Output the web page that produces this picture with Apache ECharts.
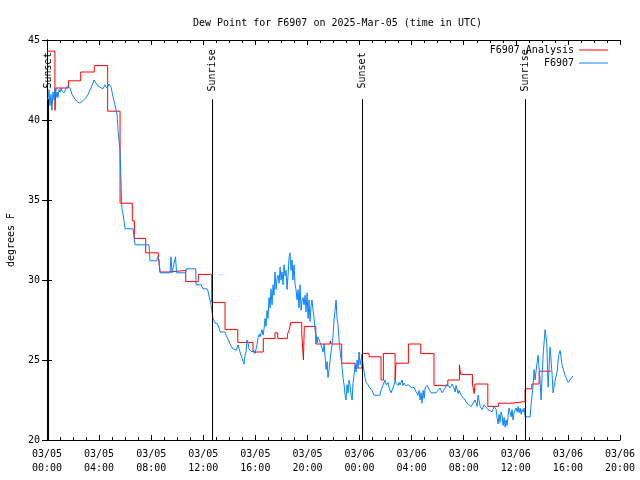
<!DOCTYPE html>
<html><head><meta charset="utf-8">
<script src="https://cdn.jsdelivr.net/npm/echarts@6/dist/echarts.min.js"></script>
<style>html,body{margin:0;padding:0;background:#fff}#c{width:640px;height:480px}</style>
</head><body><div id="c"></div>
<script>
// hours since 2025-03-05 00:00 UTC
const xTickLabels = ['03/05\n00:00','03/05\n04:00','03/05\n08:00','03/05\n12:00','03/05\n16:00','03/05\n20:00',
  '03/06\n00:00','03/06\n04:00','03/06\n08:00','03/06\n12:00','03/06\n16:00','03/06\n20:00'];

const analysisHours = [0,0.61,0.69,1.64,2.59,3.63,4.66,5.61,6.55,6.71,7.58,8.55,8.68,9.37,10.65,11.62,12.65,13.67,14.65,15.82,
  16.61,17.51,17.72,18.46,18.61,18.72,19.56,19.69,19.76,20.64,21.74,21.84,22.63,23.66,24.19,24.73,25.65,25.83,26.73,26.80,
  27.75,28.70,29.72,30.78,31.67,31.76,32.67,32.80,32.87,33.85,34.66,35.69,36.71,37.23,37.79,38.71];
const analysisValues = [44.3,40.6,42.0,42.45,43.0,43.4,40.55,34.8,33.7,32.6,31.7,31.4,30.5,30.6,29.9,30.35,28.6,26.9,26.1,25.5,
  26.35,26.7,26.35,26.6,26.9,27.35,26.7,25.0,27.1,26.0,26.2,26.0,24.8,24.5,25.4,25.2,23.75,25.4,23.75,24.8,
  26.0,25.4,23.4,23.75,24.7,24.1,23.5,22.9,23.5,22.1,22.3,22.4,23.2,23.5,24.3,24.3];

const obsHours = [0.08,0.15,0.23,0.31,0.38,0.46,0.54,0.61,0.69,0.77,0.84,0.92,1.00,1.08,1.15,1.31,1.54,1.77,1.92,2.07,
  2.30,2.53,2.76,3.00,3.15,3.38,3.53,3.61,3.84,4.07,4.30,4.45,4.61,4.76,4.92,5.07,5.22,5.38,5.45,5.53,
  5.61,5.64,5.68,5.72,5.76,5.84,5.91,5.99,6.61,6.76,7.83,7.91,8.43,8.49,8.60,8.68,9.45,9.52,9.60,9.87,
  9.95,10.65,10.68,11.42,11.44,11.83,11.98,12.29,12.37,12.44,12.52,12.60,12.67,12.75,12.90,13.06,13.21,13.29,13.67,13.75,
  13.90,14.06,14.21,14.36,14.52,14.67,14.82,14.98,15.13,15.21,15.28,15.36,15.44,15.51,15.59,15.74,15.90,15.97,16.13,16.21,
  16.28,16.36,16.51,16.59,16.67,16.74,16.82,16.90,16.97,17.05,17.13,17.20,17.28,17.36,17.43,17.51,17.59,17.67,17.74,17.82,
  17.90,17.97,18.05,18.13,18.20,18.28,18.36,18.43,18.51,18.59,18.66,18.74,18.82,18.89,18.97,19.05,19.12,19.20,19.28,19.35,
  19.43,19.51,19.59,19.66,19.74,19.82,19.89,19.97,20.05,20.12,20.20,20.28,20.35,20.43,20.51,20.58,20.66,20.74,20.81,20.97,
  21.12,21.20,21.28,21.35,21.43,21.51,21.58,21.66,21.74,21.81,21.89,21.97,22.04,22.12,22.20,22.27,22.35,22.43,22.50,22.58,
  22.66,22.73,22.81,22.89,22.96,23.04,23.12,23.19,23.27,23.35,23.43,23.50,23.58,23.66,23.73,23.81,23.89,23.96,24.04,24.11,
  24.19,24.27,24.35,24.42,24.50,24.65,24.81,24.96,25.11,25.58,25.65,25.81,25.96,26.04,26.19,26.27,26.42,26.57,26.65,26.73,
  26.80,26.96,27.04,27.11,27.27,27.34,27.42,27.57,27.73,27.88,28.03,28.19,28.34,28.49,28.57,28.65,28.73,28.80,28.88,28.96,
  29.03,29.19,29.34,29.49,29.88,30.03,30.18,30.34,30.41,30.57,30.72,30.80,30.95,31.11,31.26,31.34,31.41,31.57,31.64,31.80,
  31.95,32.10,32.26,32.41,32.57,32.72,32.87,33.03,33.10,33.26,33.41,33.56,33.72,33.87,34.02,34.18,34.33,34.49,34.56,34.64,
  34.72,34.79,34.87,34.95,35.02,35.10,35.18,35.25,35.33,35.41,35.48,35.56,35.64,35.71,35.79,35.87,36.02,36.10,36.18,36.25,
  36.33,36.41,36.48,36.56,36.64,36.71,37.10,37.17,37.25,37.33,37.40,37.48,37.61,37.71,37.86,37.94,38.02,38.12,38.25,38.38,
  38.48,38.63,38.79,38.86,39.02,39.17,39.29,39.40,39.55,39.78,40.02,40.38];
const obsValues = [41.25,41.9,40.9,41.6,40.6,41.75,41.25,42.0,41.4,41.75,41.4,41.9,41.75,42.0,41.8,41.7,42.1,42.0,41.6,41.4,
  41.15,41.05,41.2,41.4,41.6,42.0,42.3,42.5,42.2,42.05,41.95,42.2,42.0,42.25,42.05,41.45,40.95,40.3,39.4,38.75,
  38.1,37.2,36.25,35.0,34.4,34.1,33.75,33.2,33.2,32.2,32.2,31.2,31.2,31.45,31.3,30.45,30.45,31.45,30.45,31.45,
  30.45,30.45,30.7,30.7,29.7,29.7,29.45,29.45,29.3,29.0,28.75,28.45,28.0,27.6,27.3,27.3,27.0,26.75,26.75,26.55,
  26.3,26.0,25.75,25.75,25.6,25.95,25.5,25.1,24.75,25.3,25.5,26.25,26.05,25.7,25.6,25.5,25.6,25.4,25.95,26.4,
  26.6,26.45,26.9,26.55,26.95,27.6,27.1,28.1,27.6,28.9,28.25,29.45,28.45,29.7,29.05,30.5,29.4,30.1,30.3,29.8,
  30.8,30.0,30.5,29.7,30.95,30.25,30.6,29.4,30.3,31.4,31.7,30.6,31.25,30.0,30.95,29.7,29.4,28.75,29.4,28.25,
  29.7,28.1,28.75,28.9,28.45,29.05,28.0,29.2,27.6,28.75,27.4,28.4,28.75,28.1,27.6,26.9,26.55,26.05,26.45,26.1,
  25.75,25.5,26.0,25.25,24.4,24.9,23.9,24.4,25.0,25.5,25.95,26.55,27.5,28.1,28.75,27.6,27.2,26.25,25.6,25.1,
  24.5,23.9,23.45,22.8,22.5,23.45,22.95,23.75,23.45,22.8,22.5,23.55,24.05,24.7,24.25,25.0,24.5,25.5,24.7,24.7,
  25.3,24.7,24.25,23.9,23.6,23.45,23.25,23.1,22.8,22.8,23.1,23.45,23.75,23.45,23.6,23.25,22.95,22.95,23.45,23.75,
  23.55,23.4,23.6,23.45,23.75,23.4,23.55,23.4,23.45,23.5,23.25,23.3,23.0,22.8,23.1,22.5,22.95,22.3,23.1,22.6,
  23.25,23.4,23.4,22.95,22.95,23.1,23.25,22.95,23.0,23.25,23.5,23.55,23.25,23.5,23.25,23.0,23.4,22.9,23.1,22.8,
  22.8,22.5,22.3,22.2,22.1,22.1,22.5,22.1,22.8,22.1,21.9,22.2,22.05,21.9,22.0,21.75,22.1,21.9,21.4,21.0,
  21.6,21.1,21.75,21.5,20.9,21.4,20.8,21.25,20.9,21.55,22.0,21.75,21.45,21.9,21.25,21.75,22.0,21.75,22.1,21.7,
  22.0,21.6,21.9,21.75,22.0,21.45,21.45,22.2,22.8,23.45,24.4,23.75,24.7,25.3,23.75,22.5,24.05,25.6,26.9,26.05,23.3,
  25.8,24.05,22.95,23.75,24.25,25.3,25.6,24.7,24.05,23.6,24.0,24.6];

const sunNames = ['Sunset','Sunrise','Sunset','Sunrise'];
const sunHours = [0.07,12.70,24.22,36.74];

const FONT = 'DejaVu Sans Mono';
const zip = (a,b) => a.map((v,i)=>[v,b[i]]);

const chart = echarts.init(document.getElementById('c'), null, {renderer:'canvas'});
const axisBase = {
  type:'value', min:0, max:44, interval:4,
  axisLine:{show:true, lineStyle:{color:'#000', width:1}},
  axisTick:{show:true, inside:true, length:5, lineStyle:{color:'#000'}},
  minorTick:{show:true, splitNumber:4, length:3, lineStyle:{color:'#000'}},
  splitLine:{show:false}, minorSplitLine:{show:false}
};
const yBase = {
  type:'value', min:20, max:45, interval:5,
  axisLine:{show:true, lineStyle:{color:'#000', width:1}},
  axisTick:{show:true, inside:true, length:5, lineStyle:{color:'#000'}},
  splitLine:{show:false}
};
chart.setOption({
  animation:false,
  backgroundColor:'#fff',
  title:{text:'Dew Point for F6907 on 2025-Mar-05 (time in UTC)', left:188, top:13,
    textStyle:{fontFamily:FONT, fontSize:10, fontWeight:'normal', color:'#000'}},
  legend:{orient:'vertical', right:27, top:40, align:'right', itemWidth:29, itemHeight:1, itemGap:3,
    icon:'rect',
    data:[{name:'F6907 Analysis', itemStyle:{color:'#ff0000'}},{name:'F6907', itemStyle:{color:'#0a84ff'}}],
    textStyle:{fontFamily:FONT, fontSize:10, color:'#000'}},
  grid:{left:47, right:20, top:40, bottom:40, outerBoundsMode:'none', containLabel:false},
  xAxis:[
    Object.assign({}, axisBase, {position:'bottom',
      axisLabel:{show:true, margin:7, lineHeight:14, fontFamily:FONT, fontSize:10, color:'#000',
        formatter:v => xTickLabels[Math.round(v/4)]}}),
    Object.assign({}, axisBase, {position:'top', axisLabel:{show:false}})
  ],
  yAxis:[
    Object.assign({}, yBase, {position:'left', name:'degrees F', nameLocation:'middle', nameGap:31, nameRotate:90,
      nameTextStyle:{fontFamily:FONT, fontSize:10, color:'#000'},
      axisLabel:{show:true, margin:7, fontFamily:FONT, fontSize:10, color:'#000'}}),
    Object.assign({}, yBase, {position:'right', axisLabel:{show:false}})
  ],
  series:[
    {name:'F6907 Analysis', type:'line', step:'end', data:zip(analysisHours, analysisValues),
      symbol:'none', lineStyle:{color:'#ff0000', width:1}, itemStyle:{color:'#ff0000'}, z:3},
    {name:'F6907', type:'line', data:zip(obsHours, obsValues),
      symbol:'none', lineStyle:{color:'#0a84ff', width:1}, itemStyle:{color:'#0a84ff'}, z:4},
    {name:'sun', type:'scatter', symbolSize:1, itemStyle:{color:'rgba(0,0,0,0)', opacity:1},
      data:zip(sunHours, sunHours.map(()=>43.1)),
      label:{show:true, position:'inside', rotate:90, formatter:p => sunNames[p.dataIndex],
        fontFamily:FONT, fontSize:10, color:'#000', opacity:1},
      markLine:{silent:true, symbol:['none','none'], label:{show:false},
        lineStyle:{color:'#000', width:1, type:'solid', opacity:1},
        data:sunHours.map(h => [{coord:[h,20]},{coord:[h,41.3]}])},
      z:5}
  ]
});
</script></body></html>
